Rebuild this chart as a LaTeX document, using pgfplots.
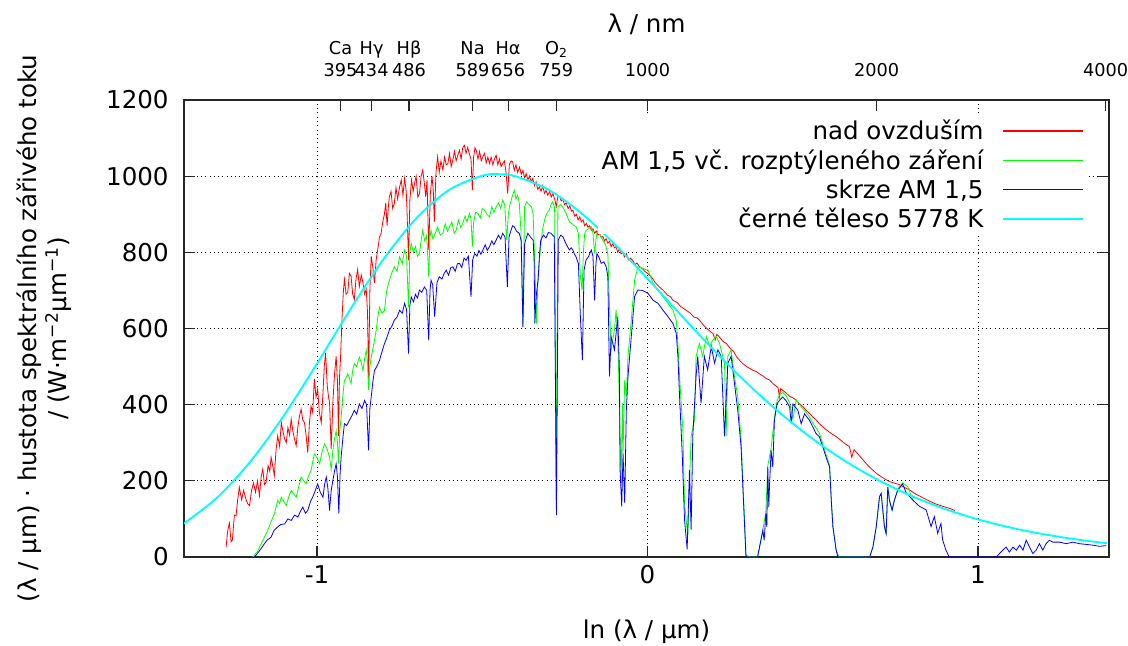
\documentclass[border=0pt]{standalone}
\usepackage{fontspec}
\setmainfont{DejaVu Sans}
\usepackage{pgfplots}
\pgfplotsset{compat=1.18}
\definecolor{cy}{RGB}{0,255,255}
\definecolor{gr}{RGB}{0,255,0}
\definecolor{rd}{RGB}{255,0,0}
\definecolor{bl}{RGB}{0,0,255}
\newcommand\mf{\fontsize{18.4}{22}\selectfont}
\newcommand\tf{\fontsize{13.3}{16}\selectfont}
\begin{document}
\begin{tikzpicture}
\path[use as bounding box] (0,0) rectangle (846pt,484.5pt);
\begin{axis}[
  at={(138pt,66.75pt)}, anchor=south west,
  scale only axis, width=693.75pt, height=342.75pt,
  xmin=-1.4024, xmax=1.3964, ymin=0, ymax=1200,
  xtick={-1,0,1}, ytick={0,200,400,600,800,1000,1200},
  xtick pos=left, ytick pos=both,
  tick align=inside, major tick length=8pt,
  minor tick num=0,
  /pgf/number format/assume math mode=true,
  /pgf/number format/1000 sep={},
  tick label style={font=\mf},
  yticklabel style={xshift=-8pt},
  xticklabel style={yshift=-3pt},
  xmajorgrids, ymajorgrids,
  major grid style={black, line width=0.6pt, dash pattern=on 0.6pt off 2.6pt},
  axis line style={line width=0.8pt, black!85},
  every tick/.style={black!85, line width=0.8pt},
  xlabel={ln (λ / µm)},
  xlabel style={at={(axis description cs:0.5,-0.164)}, anchor=center, font=\mf},
  ylabel={(λ / µm) · hustota spektrálního zářivého toku\\/ (W·m\textsuperscript{−2}µm\textsuperscript{−1})},
  ylabel style={at={(axis description cs:-0.151,0.5)}, anchor=center, align=center, font=\mf},
  legend plot pos=right,
  legend cell align=right,
  legend image code/.code={\draw[#1, line width=0.9pt] (0pt,0pt) -- (60pt,0pt);},
  legend style={at={(axis description cs:0.974,0.965)}, anchor=north east,
    draw=none, fill=white, font=\mf, inner sep=1pt, row sep=2pt, column sep=12pt,
    nodes={inner sep=2pt}},
]
\addplot[rd, line width=0.6pt] coordinates {
(-1.275,27) (-1.270,70) (-1.265,89) (-1.260,40) (-1.256,45) (-1.250,110) (-1.245,108) (-1.240,150) (-1.235,183) (-1.228,150) (-1.222,175) (-1.216,155) (-1.210,140) (-1.204,135) (-1.198,175) (-1.192,195) (-1.186,170) (-1.180,200) (-1.174,161) (-1.169,210) (-1.164,231) (-1.159,190) (-1.154,196) (-1.148,240) (-1.143,225) (-1.139,262) (-1.134,240) (-1.129,214) (-1.124,280) (-1.119,318) (-1.113,290) (-1.108,353) (-1.103,330) (-1.098,310) (-1.093,300) (-1.088,340) (-1.083,320) (-1.078,362) (-1.073,330) (-1.068,310) (-1.063,292) (-1.058,340) (-1.053,370) (-1.048,388) (-1.043,360) (-1.038,353) (-1.033,320) (-1.028,274) (-1.023,350) (-1.018,396) (-1.013,380) (-1.008,467) (-1.003,420) (-0.998,441) (-0.993,380) (-0.987,353) (-0.982,430) (-0.978,500) (-0.974,536) (-0.969,450) (-0.965,420) (-0.962,405) (-0.957,283) (-0.952,405) (-0.947,480) (-0.942,527) (-0.938,460) (-0.935,318) (-0.932,470) (-0.929,518) (-0.924,632) (-0.920,700) (-0.917,729) (-0.912,690) (-0.907,694) (-0.902,745) (-0.897,738) (-0.892,690) (-0.887,676) (-0.882,730) (-0.877,755) (-0.872,710) (-0.866,740) (-0.861,720) (-0.856,690) (-0.851,703) (-0.847,640) (-0.844,460) (-0.840,700) (-0.836,790) (-0.831,760) (-0.826,720) (-0.821,780) (-0.816,808) (-0.811,840) (-0.806,850) (-0.801,880) (-0.796,900) (-0.792,930) (-0.788,870) (-0.784,920) (-0.781,946) (-0.776,960) (-0.771,915) (-0.766,928) (-0.761,970) (-0.756,940) (-0.750,972) (-0.745,990) (-0.740,950) (-0.735,994) (-0.730,960) (-0.728,919) (-0.723,779) (-0.719,937) (-0.714,990) (-0.709,960) (-0.705,981) (-0.700,1000) (-0.695,945) (-0.690,954) (-0.685,1000) (-0.680,1016) (-0.675,980) (-0.671,946) (-0.667,990) (-0.662,806) (-0.657,954) (-0.652,1000) (-0.648,960) (-0.645,880) (-0.640,1010) (-0.635,1051) (-0.630,1010) (-0.625,1040) (-0.619,1016) (-0.614,1050) (-0.609,1030) (-0.604,1033) (-0.599,1060) (-0.594,1025) (-0.589,1042) (-0.584,1065) (-0.579,1040) (-0.574,1055) (-0.569,1068) (-0.564,1045) (-0.559,1075) (-0.554,1081) (-0.549,1060) (-0.544,1075) (-0.539,1059) (-0.534,1045) (-0.530,963) (-0.526,1050) (-0.522,1075) (-0.518,1068) (-0.513,1045) (-0.508,1065) (-0.503,1040) (-0.498,1051) (-0.493,1060) (-0.488,1035) (-0.483,1050) (-0.478,1033) (-0.473,1050) (-0.468,1030) (-0.463,1045) (-0.458,1055) (-0.453,1030) (-0.448,1045) (-0.443,1025) (-0.438,1033) (-0.433,1040) (-0.428,1010) (-0.423,954) (-0.418,1030) (-0.413,1040) (-0.408,1038) (-0.403,1015) (-0.398,1030) (-0.393,1010) (-0.387,1024) (-0.382,1005) (-0.377,1015) (-0.372,995) (-0.367,1007) (-0.362,990) (-0.357,1000) (-0.352,985) (-0.347,994) (-0.342,975) (-0.337,985) (-0.332,965) (-0.327,972) (-0.322,960) (-0.317,975) (-0.312,955) (-0.307,963) (-0.302,950) (-0.296,960) (-0.291,945) (-0.286,954) (-0.281,940) (-0.276,920) (-0.271,948) (-0.266,946) (-0.261,935) (-0.256,940) (-0.251,925) (-0.246,930) (-0.240,915) (-0.235,922) (-0.230,908) (-0.226,911) (-0.220,895) (-0.215,900) (-0.210,885) (-0.205,893) (-0.200,880) (-0.195,885) (-0.190,870) (-0.185,876) (-0.180,866) (-0.175,870) (-0.170,858) (-0.165,862) (-0.160,850) (-0.155,856) (-0.150,845) (-0.145,850) (-0.140,838) (-0.135,842) (-0.130,830) (-0.125,836) (-0.120,824) (-0.115,829) (-0.110,815) (-0.105,823) (-0.100,812) (-0.095,815) (-0.090,800) (-0.085,810) (-0.080,796) (-0.075,800) (-0.070,788) (-0.064,797) (-0.058,780) (-0.052,785) (-0.044,778) (-0.038,768) (-0.032,772) (-0.024,762) (-0.016,758) (-0.008,750) (0,745) (0.012,735) (0.024,720) (0.036,709) (0.048,700) (0.060,688) (0.070,683) (0.077,674) (0.090,668) (0.100,658) (0.110,652) (0.117,648) (0.130,640) (0.140,630) (0.150,628) (0.157,622) (0.170,608) (0.180,600) (0.190,592) (0.198,587) (0.205,570) (0.210,585) (0.220,575) (0.230,565) (0.238,561) (0.250,548) (0.260,540) (0.270,525) (0.280,515) (0.288,508) (0.300,500) (0.310,495) (0.320,490) (0.329,487) (0.340,480) (0.350,475) (0.360,468) (0.369,465) (0.380,455) (0.390,448) (0.395,445) (0.399,420) (0.403,442) (0.409,438) (0.420,430) (0.430,422) (0.440,418) (0.450,412) (0.460,402) (0.470,395) (0.480,385) (0.490,377) (0.500,368) (0.510,360) (0.520,350) (0.530,342) (0.540,335) (0.550,328) (0.560,322) (0.571,316) (0.580,310) (0.590,303) (0.600,296) (0.611,290) (0.618,262) (0.625,282) (0.635,272) (0.645,262) (0.652,255) (0.662,245) (0.672,236) (0.682,228) (0.692,220) (0.705,212) (0.718,205) (0.732,198) (0.747,194) (0.762,190) (0.777,183) (0.793,176) (0.81,166) (0.83,157) (0.85,148) (0.87,140) (0.89,134) (0.913,128) (0.93,122)
};
\addlegendentry{nad ovzduším}
\addplot[gr, line width=0.6pt] coordinates {
(-1.194,0) (-1.180,15) (-1.169,35) (-1.160,50) (-1.149,70) (-1.140,90) (-1.129,114) (-1.124,130) (-1.119,149) (-1.113,140) (-1.108,157) (-1.100,145) (-1.093,135) (-1.085,160) (-1.078,175) (-1.070,165) (-1.063,157) (-1.055,185) (-1.048,210) (-1.040,200) (-1.033,192) (-1.025,215) (-1.018,227) (-1.013,250) (-1.008,271) (-1.000,260) (-0.992,245) (-0.985,275) (-0.977,297) (-0.970,285) (-0.962,262) (-0.957,230) (-0.952,280) (-0.947,310) (-0.942,332) (-0.938,300) (-0.935,245) (-0.931,330) (-0.927,367) (-0.922,420) (-0.917,464) (-0.912,470) (-0.907,481) (-0.902,470) (-0.897,455) (-0.892,490) (-0.887,508) (-0.880,500) (-0.872,525) (-0.866,510) (-0.861,490) (-0.856,520) (-0.851,543) (-0.847,510) (-0.844,438) (-0.840,500) (-0.836,525) (-0.828,560) (-0.821,595) (-0.816,630) (-0.811,656) (-0.803,640) (-0.796,647) (-0.789,700) (-0.781,727) (-0.774,745) (-0.766,762) (-0.758,750) (-0.750,788) (-0.742,770) (-0.735,806) (-0.729,790) (-0.723,657) (-0.719,800) (-0.715,823) (-0.708,800) (-0.702,815) (-0.696,790) (-0.690,797) (-0.685,830) (-0.680,858) (-0.674,830) (-0.668,845) (-0.662,736) (-0.658,840) (-0.655,858) (-0.649,835) (-0.642,850) (-0.635,867) (-0.627,845) (-0.619,850) (-0.612,875) (-0.605,855) (-0.599,867) (-0.592,880) (-0.585,850) (-0.579,858) (-0.572,885) (-0.565,865) (-0.559,876) (-0.552,895) (-0.546,880) (-0.539,902) (-0.534,890) (-0.530,815) (-0.526,880) (-0.520,905) (-0.513,902) (-0.506,890) (-0.500,915) (-0.493,911) (-0.486,900) (-0.478,893) (-0.471,920) (-0.465,905) (-0.458,919) (-0.451,930) (-0.444,915) (-0.438,937) (-0.432,925) (-0.426,832) (-0.421,900) (-0.418,919) (-0.410,945) (-0.403,963) (-0.398,940) (-0.393,950) (-0.388,930) (-0.383,858) (-0.377,613) (-0.372,919) (-0.366,933) (-0.358,925) (-0.351,919) (-0.346,900) (-0.341,771) (-0.336,613) (-0.331,736) (-0.325,800) (-0.318,858) (-0.310,890) (-0.303,905) (-0.297,911) (-0.292,925) (-0.287,933) (-0.281,919) (-0.2765,150) (-0.271,919) (-0.264,925) (-0.256,919) (-0.251,910) (-0.246,902) (-0.241,890) (-0.236,880) (-0.228,875) (-0.222,870) (-0.216,867) (-0.209,850) (-0.203,736) (-0.198,700) (-0.194,800) (-0.190,850) (-0.185,858) (-0.178,862) (-0.170,867) (-0.165,850) (-0.160,797) (-0.155,840) (-0.150,858) (-0.143,845) (-0.135,832) (-0.127,820) (-0.120,797) (-0.116,684) (-0.110,544) (-0.100,596) (-0.095,649) (-0.090,579) (-0.085,404) (-0.080,186) (-0.076,404) (-0.074,273) (-0.069,465) (-0.064,422) (-0.059,527) (-0.049,623) (-0.039,727) (-0.029,762) (0.002,753) (0.017,718) (0.032,701) (0.047,683) (0.062,666) (0.077,648) (0.087,622) (0.092,561) (0.097,474) (0.107,334) (0.112,142) (0.122,55) (0.132,317) (0.142,360) (0.147,527) (0.157,561) (0.167,527) (0.178,579) (0.188,553) (0.198,570) (0.208,579) (0.218,561) (0.233,509) (0.238,317) (0.243,527) (0.253,544) (0.263,474) (0.273,422) (0.283,310) (0.288,210) (0.298,5) (0.31,0) (0.333,0) (0.339,26) (0.349,72) (0.358,116) (0.364,240) (0.374,285) (0.384,365) (0.392,410) (0.399,425) (0.409,432) (0.419,424) (0.430,405) (0.440,362) (0.450,412) (0.465,395) (0.475,385) (0.490,368) (0.500,352) (0.520,325) (0.530,298) (0.540,270) (0.551,240) (0.556,152) (0.561,80) (0.571,17) (0.58,0) (0.672,0) (0.682,26) (0.692,79) (0.702,158) (0.707,167) (0.717,79) (0.722,61) (0.727,184) (0.732,150) (0.740,123) (0.747,149) (0.757,178) (0.772,195) (0.787,185) (0.802,152)
};
\addlegendentry{AM 1,5 vč. rozptýleného záření}
\addplot[bl, line width=0.6pt] coordinates {
(-1.189,0) (-1.175,15) (-1.159,35) (-1.150,45) (-1.139,52) (-1.130,70) (-1.119,79) (-1.110,85) (-1.098,87) (-1.088,100) (-1.078,96) (-1.068,110) (-1.058,105) (-1.050,120) (-1.043,131) (-1.035,115) (-1.028,122) (-1.020,145) (-1.013,157) (-1.005,175) (-0.998,192) (-0.990,170) (-0.982,157) (-0.977,190) (-0.972,210) (-0.967,180) (-0.962,122) (-0.957,175) (-0.952,201) (-0.947,225) (-0.942,245) (-0.938,210) (-0.934,114) (-0.930,220) (-0.927,262) (-0.922,310) (-0.917,350) (-0.910,345) (-0.902,359) (-0.895,370) (-0.887,385) (-0.880,375) (-0.872,402) (-0.864,390) (-0.856,411) (-0.850,400) (-0.844,280) (-0.840,390) (-0.836,420) (-0.831,460) (-0.826,490) (-0.819,500) (-0.811,516) (-0.803,540) (-0.796,560) (-0.789,575) (-0.781,596) (-0.774,605) (-0.766,622) (-0.758,630) (-0.750,648) (-0.742,640) (-0.735,666) (-0.729,650) (-0.723,534) (-0.719,660) (-0.715,683) (-0.708,670) (-0.702,690) (-0.696,680) (-0.690,701) (-0.683,695) (-0.675,709) (-0.668,700) (-0.662,569) (-0.658,700) (-0.655,727) (-0.650,715) (-0.644,631) (-0.637,720) (-0.630,736) (-0.622,730) (-0.615,745) (-0.609,753) (-0.602,740) (-0.595,760) (-0.589,762) (-0.582,750) (-0.575,770) (-0.569,771) (-0.562,760) (-0.555,785) (-0.549,779) (-0.542,790) (-0.534,683) (-0.529,780) (-0.523,797) (-0.516,790) (-0.510,805) (-0.504,795) (-0.498,806) (-0.491,820) (-0.485,805) (-0.478,815) (-0.471,830) (-0.465,820) (-0.458,832) (-0.451,845) (-0.444,835) (-0.438,850) (-0.431,840) (-0.424,709) (-0.419,840) (-0.413,858) (-0.408,870) (-0.403,867) (-0.396,855) (-0.388,850) (-0.382,830) (-0.377,604) (-0.372,820) (-0.369,832) (-0.362,850) (-0.354,840) (-0.346,832) (-0.343,780) (-0.341,613) (-0.336,692) (-0.331,727) (-0.327,790) (-0.323,832) (-0.315,845) (-0.307,838) (-0.300,852) (-0.292,850) (-0.287,845) (-0.282,841) (-0.2755,110) (-0.270,832) (-0.263,845) (-0.256,841) (-0.248,825) (-0.242,815) (-0.236,806) (-0.231,812) (-0.226,806) (-0.221,795) (-0.216,788) (-0.209,770) (-0.203,630) (-0.197,517) (-0.192,753) (-0.186,780) (-0.179,788) (-0.170,806) (-0.165,790) (-0.160,674) (-0.156,770) (-0.153,797) (-0.146,785) (-0.140,771) (-0.132,775) (-0.125,762) (-0.120,736) (-0.115,474) (-0.110,579) (-0.100,544) (-0.090,631) (-0.085,491) (-0.083,229) (-0.078,132) (-0.074,273) (-0.069,142) (-0.064,386) (-0.059,474) (-0.049,579) (-0.039,684) (-0.029,701) (-0.015,700) (0.002,692) (0.017,674) (0.032,666) (0.047,648) (0.062,631) (0.077,613) (0.087,587) (0.092,527) (0.097,422) (0.105,273) (0.112,98) (0.120,20) (0.127,229) (0.132,72) (0.137,317) (0.147,474) (0.152,527) (0.162,404) (0.172,527) (0.182,491) (0.193,553) (0.203,509) (0.213,544) (0.223,527) (0.233,317) (0.243,509) (0.253,527) (0.263,457) (0.273,386) (0.283,291) (0.288,194) (0.298,0) (0.333,0) (0.339,26) (0.349,70) (0.353,44) (0.358,114) (0.361,79) (0.364,236) (0.367,131) (0.369,184) (0.374,280) (0.379,236) (0.384,359) (0.392,402) (0.399,411) (0.409,420) (0.419,411) (0.430,394) (0.435,350) (0.440,402) (0.455,385) (0.465,350) (0.475,376) (0.490,359) (0.500,342) (0.510,324) (0.520,316) (0.530,290) (0.540,263) (0.551,236) (0.556,149) (0.561,79) (0.571,17) (0.576,0) (0.672,0) (0.682,26) (0.692,79) (0.702,158) (0.707,167) (0.717,79) (0.722,61) (0.727,184) (0.732,149) (0.740,123) (0.747,149) (0.757,175) (0.772,192) (0.782,170) (0.802,150) (0.823,133) (0.843,124) (0.858,80) (0.868,106) (0.878,62) (0.888,88) (0.893,45) (0.903,18) (0.913,0) (1.055,0) (1.065,9) (1.075,18) (1.085,26) (1.095,13) (1.106,26) (1.116,18) (1.126,31) (1.136,18) (1.146,44) (1.156,26) (1.166,9) (1.176,18) (1.186,35) (1.196,18) (1.206,35) (1.216,44) (1.226,39) (1.247,39) (1.267,35) (1.287,39) (1.307,35) (1.328,33) (1.348,31) (1.368,28) (1.388,30)
};
\addlegendentry{skrze AM 1,5}
\addplot[cy, line width=1.4pt, smooth] coordinates {
(-1.45,65.5) (-1.4,90.1) (-1.3,157.7) (-1.2,252.3) (-1.1,371.6) (-1.0,507.9) (-0.9,649.0) (-0.8,780.6) (-0.7,889.0) (-0.6,964.1) (-0.5,1001.2) (-0.45,1005.2) (-0.4,999.9) (-0.3,964.7) (-0.2,902.6) (-0.1,822.0) (0,730.9) (0.1,636.3) (0.2,543.8) (0.3,457.2) (0.4,379.0) (0.5,310.1) (0.6,251.0) (0.7,201.2) (0.8,159.9) (0.9,126.1) (1.0,98.8) (1.1,76.9) (1.2,59.6) (1.3,45.9) (1.39,36.2)
};
\addlegendentry{černé těleso 5778 K}
\end{axis}
\begin{axis}[
  at={(138pt,66.75pt)}, anchor=south west,
  scale only axis, width=693.75pt, height=342.75pt,
  xmin=-1.4024, xmax=1.3964, ymin=0, ymax=1,
  axis x line*=top, axis y line=none,
  tick align=inside, major tick length=8pt,
  axis line style={line width=0.8pt, black!85},
  every tick/.style={black!85, line width=0.8pt},
  xtick={-0.92887,-0.83472,-0.72155,-0.52933,-0.42160,-0.27576,0,0.69315,1.38629},
  xticklabels={395,434,486,589,656,759,1000,2000,4000},
  xticklabel style={font=\tf, anchor=base, yshift=17.6pt},
  extra x ticks={-0.92887,-0.83472,-0.72155,-0.52933,-0.42160,-0.27576},
  extra x tick labels={Ca,Hγ,Hβ,Na,Hα,O\textsubscript{2}},
  extra x tick style={xticklabel style={font=\tf, anchor=base, yshift=16.4pt}},
  xlabel={λ / nm},
  xlabel style={at={(axis description cs:0.5,1.165)}, anchor=center, font=\mf},
]
\end{axis}
\end{tikzpicture}
\end{document}
